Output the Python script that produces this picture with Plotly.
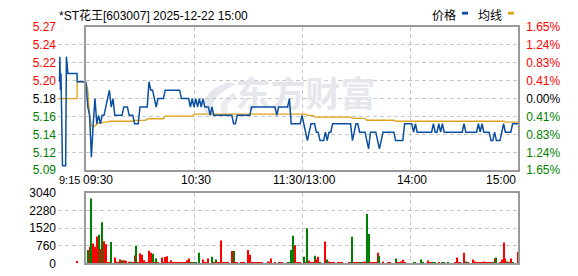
import plotly.graph_objects as go

W, H = 578, 276
prev_close = 5.18

# ---------------- call auction 9:15-9:30 (minutes after 9:15) ----------------
auction_t = [0.8, 1.0, 1.3, 1.6, 2.4, 2.7, 4.1, 4.5, 4.9, 5.3, 10.2, 10.3, 15.0]
auction_price = [5.20, 5.23, 5.19, 5.21, 5.10, 5.10, 5.10, 5.23, 5.22, 5.21, 5.21, 5.20, 5.20]
auction_avg_t = [0.0, 10.2, 10.3, 15.0]
auction_avg = [5.18, 5.18, 5.20, 5.20]
auction_vol_t = [10.2]
auction_vol = [96]

# ---------------- continuous session, minute index 0..240 ----------------
price = [
    5.20, 5.17, 5.16, 5.11, 5.15, 5.18, 5.15, 5.16, 5.15, 5.16,
    5.16, 5.17, 5.18, 5.19, 5.17, 5.18, 5.16, 5.16, 5.16, 5.16,
    5.16, 5.17, 5.17, 5.17, 5.16, 5.16, 5.16, 5.15, 5.15, 5.15,
    5.17, 5.17, 5.17, 5.17, 5.17, 5.20, 5.19, 5.19, 5.18, 5.17,
    5.18, 5.18, 5.18, 5.18, 5.19, 5.19, 5.19, 5.19, 5.19, 5.19,
    5.19, 5.19, 5.19, 5.18, 5.18, 5.18, 5.18, 5.18, 5.17, 5.18,
    5.17, 5.18, 5.17, 5.18, 5.17, 5.18, 5.17, 5.17, 5.17, 5.16,
    5.17, 5.16, 5.16, 5.16, 5.16, 5.16, 5.16, 5.16, 5.16, 5.16,
    5.16, 5.16, 5.15, 5.15, 5.16, 5.16, 5.16, 5.16, 5.16, 5.16,
    5.16, 5.16, 5.17, 5.17, 5.17, 5.17, 5.17, 5.17, 5.17, 5.17,
    5.17, 5.17, 5.17, 5.17, 5.17, 5.17, 5.16, 5.17, 5.17, 5.17,
    5.17, 5.17, 5.17, 5.18, 5.15, 5.15, 5.15, 5.15, 5.15, 5.15,
    5.16, 5.15, 5.14, 5.13, 5.14, 5.15, 5.15, 5.15, 5.14, 5.14,
    5.13, 5.13, 5.13, 5.14, 5.13, 5.14, 5.14, 5.15, 5.15, 5.15,
    5.15, 5.15, 5.15, 5.15, 5.15, 5.15, 5.15, 5.15, 5.13, 5.14,
    5.15, 5.15, 5.14, 5.14, 5.14, 5.14, 5.13, 5.12, 5.14, 5.14,
    5.14, 5.14, 5.13, 5.12, 5.13, 5.14, 5.14, 5.14, 5.14, 5.14,
    5.14, 5.14, 5.13, 5.13, 5.13, 5.13, 5.13, 5.15, 5.15, 5.15,
    5.15, 5.15, 5.14, 5.15, 5.14, 5.14, 5.14, 5.14, 5.14, 5.14,
    5.14, 5.14, 5.14, 5.15, 5.14, 5.14, 5.15, 5.14, 5.15, 5.14,
    5.14, 5.14, 5.14, 5.14, 5.14, 5.14, 5.14, 5.14, 5.14, 5.14,
    5.15, 5.14, 5.14, 5.14, 5.14, 5.14, 5.14, 5.14, 5.15, 5.14,
    5.15, 5.14, 5.14, 5.14, 5.14, 5.13, 5.13, 5.14, 5.13, 5.13,
    5.13, 5.14, 5.15, 5.14, 5.14, 5.14, 5.14, 5.15, 5.15, 5.15,
    5.15,
]

avg_price = [
    5.200, 5.190, 5.160, 5.148, 5.146, 5.148, 5.150, 5.151, 5.151, 5.151,
    5.152, 5.152, 5.152, 5.153, 5.153, 5.153, 5.153, 5.153, 5.153, 5.153,
    5.153, 5.153, 5.153, 5.153, 5.153, 5.153, 5.153, 5.154, 5.154, 5.154,
    5.154, 5.154, 5.154, 5.154, 5.156, 5.156, 5.156, 5.156, 5.156, 5.156,
    5.156, 5.156, 5.156, 5.156, 5.159, 5.159, 5.159, 5.159, 5.159, 5.159,
    5.159, 5.159, 5.159, 5.159, 5.159, 5.159, 5.159, 5.159, 5.159, 5.159,
    5.1615, 5.1615, 5.1615, 5.1615, 5.1615, 5.1615, 5.1615, 5.1615, 5.1615, 5.1615,
    5.1615, 5.1615, 5.1615, 5.1615, 5.1615, 5.1615, 5.1615, 5.1615, 5.1615, 5.1615,
    5.1615, 5.1615, 5.1615, 5.1615, 5.1615, 5.1615, 5.1615, 5.1615, 5.1615, 5.1615,
    5.1615, 5.1615, 5.1615, 5.1615, 5.1615, 5.1615, 5.1615, 5.1615, 5.1615, 5.1615,
    5.1615, 5.1615, 5.1615, 5.1615, 5.1615, 5.1615, 5.1615, 5.1615, 5.1615, 5.1615,
    5.1615, 5.1615, 5.1615, 5.1615, 5.1615, 5.1615, 5.1615, 5.1615, 5.1615, 5.1615,
    5.1615, 5.1615, 5.1615, 5.160, 5.160, 5.160, 5.160, 5.158, 5.158, 5.158,
    5.158, 5.158, 5.158, 5.158, 5.158, 5.158, 5.158, 5.158, 5.158, 5.158,
    5.158, 5.158, 5.158, 5.158, 5.158, 5.158, 5.158, 5.158, 5.1565, 5.1565,
    5.1565, 5.1565, 5.1565, 5.1565, 5.1565, 5.1565, 5.1542, 5.1542, 5.1542, 5.1542,
    5.1542, 5.1542, 5.1542, 5.1542, 5.1542, 5.1542, 5.1542, 5.1542, 5.1542, 5.1542,
    5.1542, 5.1542, 5.153, 5.153, 5.153, 5.153, 5.153, 5.153, 5.153, 5.153,
    5.153, 5.153, 5.153, 5.153, 5.153, 5.153, 5.153, 5.153, 5.153, 5.153,
    5.153, 5.153, 5.153, 5.153, 5.153, 5.153, 5.153, 5.153, 5.153, 5.153,
    5.153, 5.153, 5.153, 5.153, 5.153, 5.153, 5.153, 5.153, 5.153, 5.153,
    5.153, 5.153, 5.153, 5.153, 5.153, 5.153, 5.153, 5.153, 5.153, 5.153,
    5.153, 5.153, 5.153, 5.153, 5.153, 5.153, 5.153, 5.153, 5.153, 5.153,
    5.153, 5.153, 5.153, 5.152, 5.152, 5.152, 5.152, 5.152, 5.152, 5.152,
    5.152,
]

volume = [
    0, 575, 712, 2806, 862, 712, 1164, 1232, 616, 1780,
    958, 821, 55, 41, 917, 0, 246, 68, 55, 164,
    137, 137, 110, 0, 68, 68, 41, 342, 753, 41,
    438, 370, 137, 41, 41, 548, 452, 411, 41, 205,
    41, 0, 246, 41, 274, 301, 41, 137, 41, 41,
    41, 41, 41, 41, 41, 41, 137, 205, 41, 41,
    41, 41, 0, 452, 0, 164, 41, 41, 205, 0,
    287, 41, 164, 41, 41, 986, 41, 41, 41, 41,
    0, 534, 534, 41, 41, 0, 41, 41, 41, 0,
    575, 370, 41, 41, 41, 41, 41, 41, 41, 0,
    0, 82, 41, 205, 0, 41, 0, 41, 41, 41,
    0, 0, 41, 41, 575, 1191, 780, 41, 41, 41,
    0, 287, 41, 1520, 123, 41, 41, 329, 164, 287,
    41, 0, 0, 945, 164, 82, 41, 41, 41, 0,
    41, 41, 41, 0, 0, 0, 41, 41, 1150, 41,
    41, 41, 41, 41, 41, 82, 2136, 1273, 41, 41,
    41, 41, 452, 329, 0, 82, 0, 0, 41, 41,
    0, 0, 205, 41, 41, 82, 150, 41, 0, 0,
    0, 0, 41, 41, 0, 0, 164, 41, 0, 0,
    123, 41, 41, 41, 41, 0, 41, 0, 41, 41,
    0, 41, 0, 0, 0, 41, 246, 41, 41, 0,
    452, 82, 41, 0, 0, 164, 82, 41, 41, 41,
    41, 82, 41, 41, 41, 41, 41, 205, 246, 0,
    41, 164, 904, 205, 82, 41, 205, 41, 0, 0,
    493,
]

# u = up minute (red bar), d = down minute (green bar); one char per minute
vol_dir_rows = [
    "ududuuudud", "uuuuduuduu", "duuuuduudu", "uuuuuuudud",
    "uuuuuuuuuu", "uuuuuuuudu", "dduduuuuuu", "duduuuuuuu",
    "uuduuuuuuu", "uuuuuuuuuu", "uuuuuuuduu", "uuuddduuuu",
    "ududuuuduu", "duuuduuuuu", "uuuuuuuddu", "uudduudduu",
    "uuuduuuuuu", "uuduuuuuuu", "uudduudduu", "uuudduuudd",
    "uduuuuuuuu", "uduuuuuuuu", "uuuuuududu", "uuuuduuduu",
    "u",
]
vol_dir = "".join(vol_dir_rows)

minutes = list(range(len(price)))

# ---------------- axis labels ----------------
pct_levels = [1.65, 1.2375, 0.825, 0.4125, 0.0, -0.4125, -0.825, -1.2375, -1.65]
price_labels = ["5.27", "5.24", "5.22", "5.20", "5.18", "5.16", "5.14", "5.12", "5.09"]
pct_labels = ["1.65%", "1.24%", "0.83%", "0.41%", "0.00%", "0.41%", "0.83%", "1.24%", "1.65%"]
vol_ticks = [0, 760, 1520, 2280, 3040]
vol_labels = ["0", "760", "1520", "2280", "3040"]
main_grid_ticks = [60, 120, 180]
time_labels = ["10:30", "11:30/13:00", "14:00"]

RED, GREEN, BLACK = "#ff0000", "#008000", "#000000"
BLUE, GOLD = "#0b4fa2", "#dfa41c"
GRID = "#c8c8c8"
BORDER = "#999999"
FONT = "Liberation Sans, Noto Sans CJK SC, sans-serif"


def lvl_color(p):
    return RED if p > 0 else (BLACK if p == 0 else GREEN)


price_vals = [prev_close * (1 + p / 100) for p in pct_levels]
left_text = [f'<span style="color:{lvl_color(p)}">{t}</span>' for p, t in zip(pct_levels, price_labels)]
right_text = [f'<span style="color:{lvl_color(p)}">{t}</span>' for p, t in zip(pct_levels, pct_labels)]
yrange = [prev_close * (1 - 0.0165), prev_close * (1 + 0.0165)]

vol_colors = [RED if d == "u" else GREEN for d in vol_dir]

# domains (paper fractions)
x_auc = [58 / W, 86 / W]
x_main = [86 / W, 518 / W]
y_price = [(H - 172) / H, (H - 21) / H]
y_vol = [(H - 270) / H, (H - 196) / H]


def pp(x, y):
    return f"{x / W:.5f},{(H - y) / H:.5f}"


fig = go.Figure()

# watermark (behind the lines)
fig.add_trace(go.Scatter(x=[122], y=[prev_close], mode="text", text=["<b>东方财富</b>"],
                         textfont=dict(size=35, color="#e6e6ed", family="Noto Sans CJK SC"),
                         xaxis="x2", yaxis="y2", hoverinfo="skip"))

fig.add_trace(go.Scatter(x=auction_avg_t, y=auction_avg, mode="lines",
                         line=dict(color=GOLD, width=1.3), xaxis="x", yaxis="y"))
fig.add_trace(go.Scatter(x=auction_t, y=auction_price, mode="lines",
                         line=dict(color=BLUE, width=1.5), xaxis="x", yaxis="y"))
fig.add_trace(go.Scatter(x=minutes, y=avg_price, mode="lines",
                         line=dict(color=GOLD, width=1.3), xaxis="x2", yaxis="y2"))
fig.add_trace(go.Scatter(x=minutes, y=price, mode="lines",
                         line=dict(color=BLUE, width=1.5), xaxis="x2", yaxis="y2"))

fig.add_trace(go.Bar(x=auction_vol_t, y=auction_vol, marker=dict(color=RED, line=dict(width=0)),
                     width=0.55, xaxis="x3", yaxis="y3"))
fig.add_trace(go.Bar(x=minutes, y=volume, marker=dict(color=vol_colors, line=dict(width=0)),
                     width=0.6, xaxis="x4", yaxis="y4"))

grid = dict(showgrid=True, gridcolor=GRID, griddash="4px,3px", gridwidth=1, zeroline=False)
box = dict(showline=True, mirror=True, linecolor=BORDER, linewidth=1.5)
tf = dict(family=FONT, size=12, color=BLACK)

fig.update_layout(
    width=W, height=H, margin=dict(l=0, r=0, t=0, b=0), autosize=False,
    paper_bgcolor="white", plot_bgcolor="white", showlegend=False,
    xaxis=dict(domain=x_auc, range=[0, 15], anchor="y", tickvals=[0], showticklabels=False,
               ticks="", **grid),
    yaxis=dict(domain=y_price, range=yrange, anchor="x", tickvals=price_vals, ticktext=left_text,
               ticks="", tickfont=tf, ticklabelstandoff=1, **grid),
    xaxis2=dict(domain=x_main, range=[0, 240], anchor="y2", tickvals=main_grid_ticks,
                showticklabels=False, ticks="", **grid, **box),
    yaxis2=dict(domain=y_price, range=yrange, anchor="x2", side="right", tickvals=price_vals,
                ticktext=right_text, ticks="", tickfont=tf, ticklabelstandoff=4, **grid, **box),
    xaxis3=dict(domain=x_auc, range=[0, 15], anchor="y3", tickvals=[0], showticklabels=False,
                ticks="", **grid),
    yaxis3=dict(domain=y_vol, range=[0, 3040], anchor="x3", tickvals=vol_ticks, ticktext=vol_labels,
                ticks="", tickfont=tf, ticklabelstandoff=1, **grid),
    xaxis4=dict(domain=x_main, range=[0, 240], anchor="y4", tickvals=main_grid_ticks,
                showticklabels=False, ticks="", **grid, **box),
    yaxis4=dict(domain=y_vol, range=[0, 3040], anchor="x4", tickvals=vol_ticks[1:-1],
                showticklabels=False, ticks="", **grid, **box),
)

# watermark logo (light swoosh, decoration behind the data)
fig.add_shape(type="path", xref="paper", yref="paper", layer="below",
              path=("M " + pp(228, 79) + " Q " + pp(196, 92) + " " + pp(206, 113) +
                    " L " + pp(214, 113) + " Q " + pp(206, 96) + " " + pp(236, 81) + " Z"),
              fillcolor="#e6e6ed", line=dict(width=0))
fig.add_shape(type="path", xref="paper", yref="paper", layer="below",
              path=("M " + pp(234, 90) + " Q " + pp(216, 100) + " " + pp(222, 113) +
                    " L " + pp(228, 113) + " Q " + pp(224, 102) + " " + pp(236, 95) + " Z"),
              fillcolor="#ececf1", line=dict(width=0))

# time labels
ty = (H - 182) / H
small = dict(family=FONT, size=11, color=BLACK)
ann = [
    dict(x=57 / W, y=ty, xref="paper", yref="paper", text="9:15", xanchor="left", font=small),
    dict(x=81 / W, y=ty, xref="paper", yref="paper", text="09:30", xanchor="left", font=tf),
    dict(x=240, y=ty, xref="x2", yref="paper", text="15:00", xanchor="right", font=tf),
]
for v, t in zip(main_grid_ticks, time_labels):
    ann.append(dict(x=v, y=ty, xref="x2", yref="paper", text=t, xanchor="center", xshift=2, font=tf))
for a in ann:
    a.update(showarrow=False, yanchor="middle")
    fig.add_annotation(**a)

# title and legend
fig.add_annotation(x=57 / W, y=(H - 9) / H, xref="paper", yref="paper",
                   text="*ST花王[603007] 2025-12-22 15:00", showarrow=False,
                   xanchor="left", yanchor="middle", font=tf)
fig.add_annotation(x=430 / W, y=(H - 9) / H, xref="paper", yref="paper", text="价格",
                   showarrow=False, xanchor="left", yanchor="middle", font=tf)
fig.add_annotation(x=476 / W, y=(H - 9) / H, xref="paper", yref="paper", text="均线",
                   showarrow=False, xanchor="left", yanchor="middle", font=tf)
fig.add_shape(type="rect", xref="paper", yref="paper", x0=462 / W, x1=468 / W,
              y0=(H - 8) / H, y1=(H - 5) / H, fillcolor=BLUE, line=dict(width=0))
fig.add_shape(type="rect", xref="paper", yref="paper", x0=508 / W, x1=514 / W,
              y0=(H - 8) / H, y1=(H - 5) / H, fillcolor=GOLD, line=dict(width=0))

fig.write_html("out.html")
